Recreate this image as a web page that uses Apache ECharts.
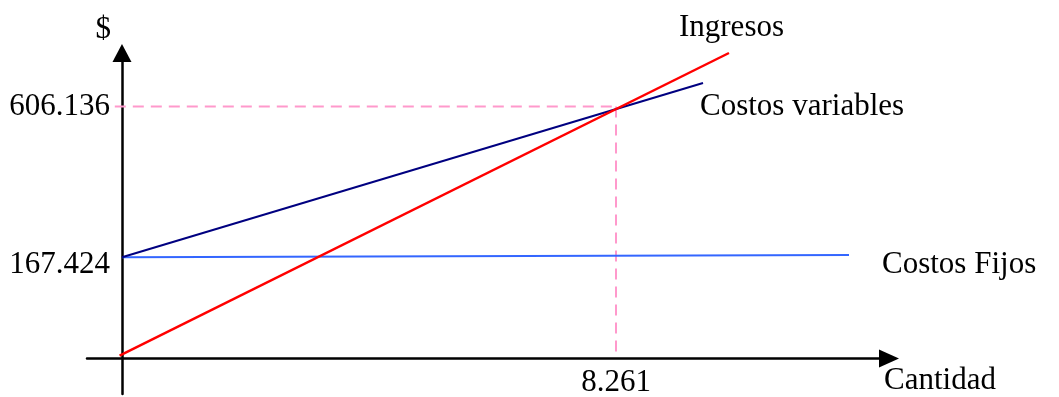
<!DOCTYPE html>
<html><head><meta charset="utf-8">
<script src="https://cdn.jsdelivr.net/npm/echarts@6/dist/echarts.min.js"></script>
<style>html,body{margin:0;padding:0;background:#fff}#c{width:1059px;height:397px}</style>
</head><body><div id="c"></div>
<script>
// Schematic break-even chart (in its own plotted units)
const seriesNames = ['Ingresos', 'Costos variables', 'Costos Fijos'];
const axisNames = ['Cantidad', '$'];
const xTickValues = [8.261];
const xTickLabels = ['8.261'];
const yTickValues = [243.4, 606.136];
const yTickLabels = ['167.424', '606.136'];
const ingresosX = [-0.04, 10.15];
const ingresosY = [6.7, 734.8];
const variablesX = [0, 9.716];
const variablesY = [243.4, 662.7];
const fijosX = [0, 12.157];
const fijosY = [243.4, 249.0];
const breakEvenQty = 8.261;
const breakEvenValue = 606.136;
const guideStartX = -0.12;

const FONT = "'Liberation Serif','Times New Roman',serif";
const FS = 31;
const pair = (xs, ys) => xs.map((x, i) => [x, ys[i]]);

const chart = echarts.init(document.getElementById('c'), null, {renderer: 'canvas'});
const lineBase = {type: 'line', showSymbol: false, symbol: 'none', silent: true, animation: false};
const endLbl = (offset) => ({show: true, formatter: '{a}', distance: 0, offset: offset,
  fontFamily: FONT, fontSize: FS, color: '#000'});

chart.setOption({
  animation: false,
  backgroundColor: '#fff',
  grid: {left: 87, right: 170, top: 53, bottom: 3, containLabel: false, outerBoundsMode: 'none'},
  xAxis: {
    type: 'value', min: -0.585, max: 12.826,
    name: axisNames[0], nameLocation: 'end', nameGap: -5,
    nameTextStyle: {fontFamily: FONT, fontSize: FS, color: '#000', align: 'left', verticalAlign: 'top', padding: [7, 0, 0, 0]},
    axisLine: {onZero: true, lineStyle: {color: '#000', width: 2.5}, symbol: ['none', 'triangle'], symbolSize: [18, 20]},
    axisTick: {show: false}, splitLine: {show: false},
    axisLabel: {customValues: xTickValues, formatter: v => xTickLabels[xTickValues.indexOf(v)] ?? '',
      margin: -27, fontFamily: FONT, fontSize: FS, color: '#000'}
  },
  yAxis: {
    type: 'value', min: -85.4, max: 734.8,
    name: axisNames[1], nameLocation: 'end', nameGap: 8,
    nameTextStyle: {fontFamily: FONT, fontSize: FS, color: '#000', align: 'right', padding: [0, 11, 0, 0]},
    axisLine: {onZero: true, lineStyle: {color: '#000', width: 2.5}, symbol: ['none', 'triangle'], symbolSize: [19, 18]},
    axisTick: {show: false}, splitLine: {show: false},
    axisLabel: {customValues: yTickValues,
      formatter: v => { const i = yTickValues.indexOf(v); return i === 0 ? '{low|' + yTickLabels[i] + '}' : (yTickLabels[i] ?? ''); },
      margin: -23, fontFamily: FONT, fontSize: FS, color: '#000',
      rich: {low: {fontFamily: FONT, fontSize: FS, color: '#000', padding: [16, 0, 0, 0]}}}
  },
  series: [
    Object.assign({}, lineBase, {name: 'guideH', z: 1, data: [[guideStartX, breakEvenValue], [breakEvenQty, breakEvenValue]],
      lineStyle: {color: '#ff99cc', width: 2, type: [11, 7]}}),
    Object.assign({}, lineBase, {name: 'guideV', z: 1, data: [[breakEvenQty, breakEvenValue], [breakEvenQty, 0]],
      lineStyle: {color: '#ff99cc', width: 2, type: [11, 7]}}),
    Object.assign({}, lineBase, {name: seriesNames[2], data: pair(fijosX, fijosY),
      lineStyle: {color: '#3366ff', width: 2}, endLabel: endLbl([33, 10])}),
    Object.assign({}, lineBase, {name: seriesNames[1], data: pair(variablesX, variablesY),
      lineStyle: {color: '#000080', width: 2}, endLabel: endLbl([-3, 24])}),
    Object.assign({}, lineBase, {name: seriesNames[0], data: pair(ingresosX, ingresosY),
      lineStyle: {color: '#ff0000', width: 2.5}, endLabel: endLbl([-50, -25])})
  ]
});
</script></body></html>
